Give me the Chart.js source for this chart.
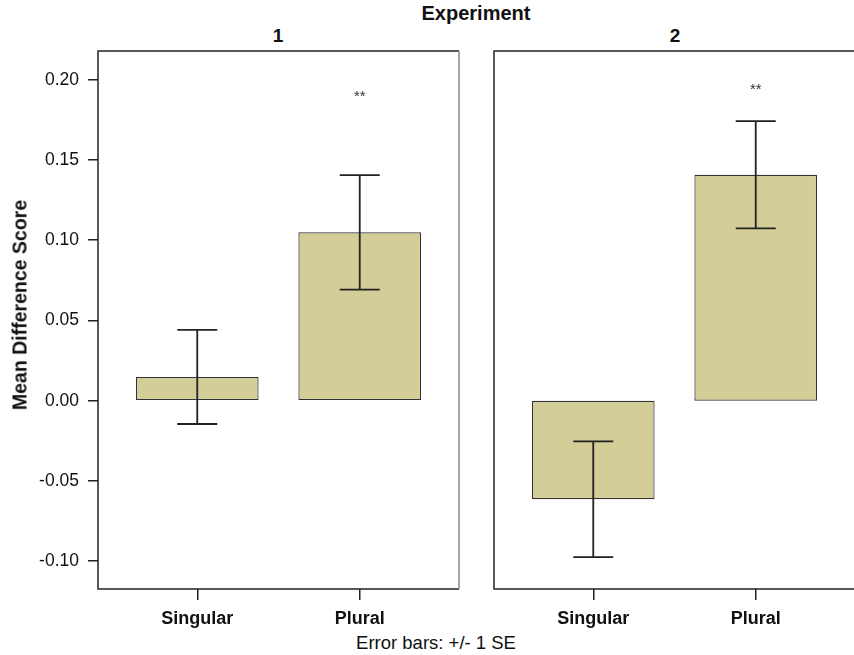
<!DOCTYPE html>
<html lang="en">
<head>
  <meta charset="UTF-8" />
  <title>Mean Difference Score by Experiment</title>
  <script src="https://cdn.jsdelivr.net/npm/chart.js"></script>
  <style>
    html, body { margin: 0; padding: 0; background: #fff; }
    body { width: 854px; height: 655px; position: relative; overflow: hidden; font-family: "Liberation Sans", Arial, sans-serif; color: #111; }
    .lbl { position: absolute; transform: translateX(-50%); white-space: nowrap; }
    .bold { font-weight: bold; }
    .ytitle { position: absolute; left: 20px; top: 305px; transform: translate(-50%, -50%) rotate(-90deg); white-space: nowrap; font-weight: bold; font-size: 19.5px; z-index: 2; }
    #wrap1 { position: absolute; left: 0; top: 0; width: 470px; height: 655px; }
    #wrap2 { position: absolute; left: 470px; top: 0; width: 390px; height: 655px; }
  </style>
</head>
<body>

<div class="lbl bold" style="left:476px; top:2px; font-size:20px;">Experiment</div>
<div class="lbl bold" style="left:278px; top:25px; font-size:19px;">1</div>
<div class="lbl bold" style="left:675px; top:25px; font-size:19px;">2</div>
<div class="lbl" style="left:436px; top:632px; font-size:18.5px;">Error bars: +/- 1 SE</div>
<div class="ytitle">Mean Difference Score</div>

<div id="wrap1"><canvas id="panel1"></canvas></div>
<div id="wrap2"><canvas id="panel2"></canvas></div>

<script>
  // data
  const categories = ['Singular', 'Plural'];
  const exp1Means = [0.0148, 0.1049];
  const exp1SE = [0.0293, 0.0357];
  const exp2Means = [-0.0614, 0.1408];
  const exp2SE = [0.0361, 0.0334];
  const exp1Marks = ['', '**'];
  const exp2Marks = ['', '**'];
  const markY = [0.1925, 0.197];
  const yTicks = [0.20, 0.15, 0.10, 0.05, 0.00, -0.05, -0.10];

  const yMin = -0.1173, yMax = 0.2179;
  const barFill = '#d3cd97';

  // error bars + significance marks, drawn through the scales
  const errorBars = {
    id: 'errorBars',
    afterDatasetsDraw(chart, args, opts) {
      const ctx = chart.ctx;
      const ys = chart.scales.y;
      const meta = chart.getDatasetMeta(0);
      ctx.save();
      ctx.strokeStyle = '#222';
      ctx.lineWidth = 1.8;
      meta.data.forEach((bar, i) => {
        const m = opts.means[i], se = opts.se[i];
        const top = ys.getPixelForValue(m + se);
        const bot = ys.getPixelForValue(m - se);
        ctx.beginPath();
        ctx.moveTo(bar.x, top); ctx.lineTo(bar.x, bot);
        ctx.moveTo(bar.x - 20, top); ctx.lineTo(bar.x + 20, top);
        ctx.moveTo(bar.x - 20, bot); ctx.lineTo(bar.x + 20, bot);
        ctx.stroke();
        if (opts.marks[i]) {
          ctx.fillStyle = '#333';
          ctx.font = '15px "Liberation Sans", Arial, sans-serif';
          ctx.textAlign = 'center';
          ctx.textBaseline = 'alphabetic';
          ctx.fillText(opts.marks[i], bar.x, ys.getPixelForValue(opts.markY) + 9);
        }
      });
      ctx.restore();
    }
  };

  // panel frame, right side may be grey
  const frame = {
    id: 'frame',
    afterDraw(chart, args, opts) {
      const a = chart.chartArea;
      const ctx = chart.ctx;
      ctx.save();
      ctx.lineWidth = 1.5;
      ctx.strokeStyle = '#222';
      ctx.beginPath();
      ctx.moveTo(a.right, a.top); ctx.lineTo(a.left, a.top);
      ctx.lineTo(a.left, a.bottom); ctx.lineTo(a.right, a.bottom);
      ctx.stroke();
      ctx.strokeStyle = opts.rightColor;
      ctx.beginPath();
      ctx.moveTo(a.right, a.top); ctx.lineTo(a.right, a.bottom);
      ctx.stroke();
      ctx.restore();
    }
  };

  function makePanel(id, means, se, marks, mY, showY, padding, rightColor) {
    return new Chart(document.getElementById(id), {
      type: 'bar',
      data: {
        datasets: [{
          data: means.map((v, i) => ({ x: i, y: v })),
          backgroundColor: barFill,
          borderColor: '#333',
          borderWidth: 1.2,
          borderSkipped: false,
          categoryPercentage: 1,
          barPercentage: 0.755
        }]
      },
      options: {
        responsive: true,
        maintainAspectRatio: false,
        animation: false,
        layout: { padding: padding },
        plugins: {
          legend: { display: false },
          tooltip: { enabled: false },
          errorBars: { means: means, se: se, marks: marks, markY: mY },
          frame: { rightColor: rightColor }
        },
        scales: {
          x: {
            type: 'linear',
            min: -0.611,
            max: 1.611,
            offset: false,
            afterBuildTicks: s => { s.ticks = categories.map((c, i) => ({ value: i })); },
            afterFit: s => { s.height = 66; },
            border: { display: false },
            grid: { offset: false, drawOnChartArea: false, drawTicks: true, tickLength: 11, color: '#222', lineWidth: 1.5 },
            ticks: {
              callback: v => categories[v],
              color: '#111',
              padding: 8,
              maxRotation: 0,
              autoSkip: false,
              font: { family: '"Liberation Sans", Arial, sans-serif', size: 18, weight: 'bold' }
            }
          },
          y: {
            display: showY,
            min: yMin,
            max: yMax,
            afterBuildTicks: s => { s.ticks = yTicks.map(v => ({ value: v })); },
            afterFit: s => { s.width = showY ? 98 : 0; },
            border: { display: false },
            grid: { drawOnChartArea: false, drawTicks: true, tickLength: 10, color: '#222', lineWidth: 1.5 },
            ticks: {
              callback: v => v.toFixed(2),
              color: '#111',
              padding: 9,
              font: { family: '"Liberation Sans", Arial, sans-serif', size: 17.5 }
            }
          }
        }
      },
      plugins: [errorBars, frame]
    });
  }

  makePanel('panel1', exp1Means, exp1SE, exp1Marks, markY[0], true,
    { left: 0, top: 51, right: 11, bottom: 0 }, '#888');
  makePanel('panel2', exp2Means, exp2SE, exp2Marks, markY[1], false,
    { left: 24, top: 51, right: 5, bottom: 0 }, '#222');
</script>
</body>
</html>
